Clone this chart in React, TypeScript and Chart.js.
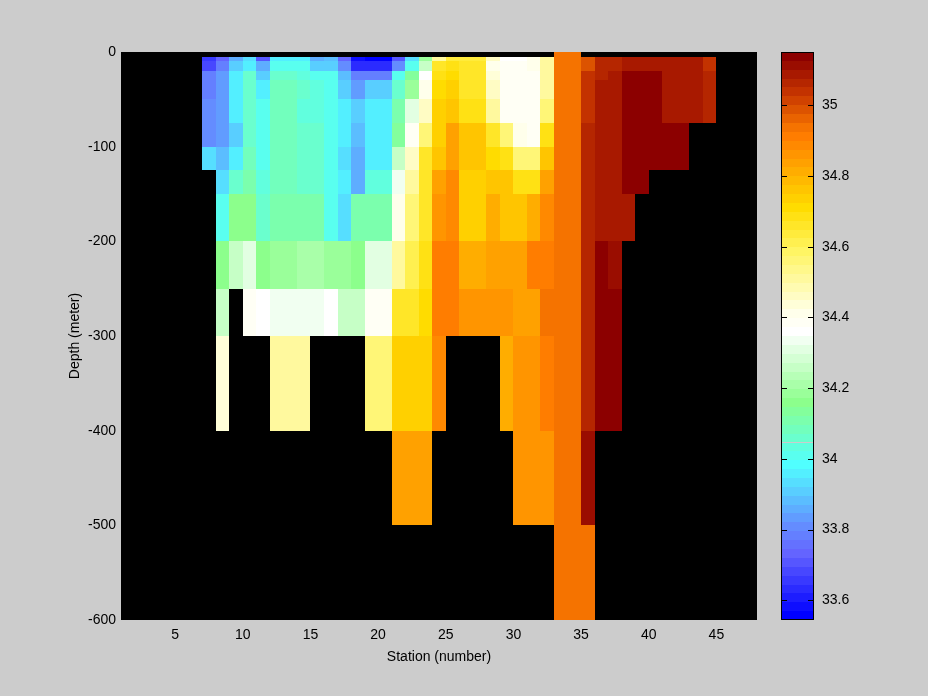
import React, { useEffect, useRef } from "react";
import { Chart, registerables } from "chart.js";

Chart.register(...registerables);

// ---------- data ----------
// left edge of each pcolor cell (station number); each cell spans one station
const STATIONS = [
  7, 8, 9, 10, 11, 12, 13, 14, 15, 16, 17, 18, 19, 20, 21, 22, 23, 24, 25, 26,
  27, 28, 29, 30, 31, 32, 33, 34, 35, 36, 37, 38, 39, 40, 41, 42, 43, 44,
];
// depth edges (m) of the cell rows
const DEPTH_EDGES = [0, 5, 10, 20, 30, 50, 75, 100, 125, 150, 200, 250, 300, 400, 500, 600];
const X_TICKS = [5, 10, 15, 20, 25, 30, 35, 40, 45];
const Y_TICKS = [0, -100, -200, -300, -400, -500, -600];
const CBAR_TICKS = [33.6, 33.8, 34, 34.2, 34.4, 34.6, 34.8, 35];
const C_MIN = 33.544;
const C_MAX = 35.151;
const X_MIN = 1;
const X_MAX = 48;
const Y_MIN = -600;
const Y_MAX = 0;

const N = null;
// salinity per station (rows follow DEPTH_EDGES intervals, top to bottom)
const SALINITY: (number | null)[][] = [
  /* 7 */ [N, 33.65, 33.69, 33.78, 33.78, 33.8, 33.8, 33.93, N, N, N, N, N, N, N],
  /* 8 */ [N, 33.72, 33.78, 33.84, 33.84, 33.84, 33.84, 33.88, 33.93, 34.0, 34.15, 34.27, 34.44, N, N],
  /* 9 */ [N, 33.86, 33.9, 33.97, 33.97, 33.97, 33.92, 33.97, 34.05, 34.15, 34.27, N, N, N, N],
  /* 10 */ [N, 33.93, 33.97, 34.05, 34.05, 34.05, 34.05, 34.08, 34.12, 34.15, 34.3, 34.38, N, N, N],
  /* 11 */ [N, 33.7, 33.85, 33.9, 33.95, 34.0, 34.0, 34.0, 34.04, 34.06, 34.17, 34.36, N, N, N],
  /* 12 */ [N, 33.95, 34.0, 34.06, 34.08, 34.08, 34.08, 34.08, 34.08, 34.1, 34.18, 34.34, 34.5, N, N],
  /* 13 */ [N, 33.95, 34.0, 34.06, 34.08, 34.08, 34.08, 34.08, 34.08, 34.1, 34.18, 34.34, 34.5, N, N],
  /* 14 */ [N, 33.95, 34.0, 34.04, 34.05, 34.04, 34.05, 34.05, 34.06, 34.1, 34.2, 34.34, 34.5, N, N],
  /* 15 */ [N, 33.87, 33.92, 34.0, 34.03, 34.04, 34.05, 34.05, 34.06, 34.1, 34.2, 34.34, N, N, N],
  /* 16 */ [N, 33.88, 33.92, 34.0, 34.0, 34.02, 34.02, 34.02, 34.02, 34.02, 34.18, 34.37, N, N, N],
  /* 17 */ [N, 33.72, 33.82, 33.88, 33.9, 33.95, 33.95, 33.93, 33.95, 33.93, 34.18, 34.27, N, N, N],
  /* 18 */ [N, 33.58, 33.63, 33.78, 33.84, 33.92, 33.88, 33.87, 33.87, 34.12, 34.15, 34.27, N, N, N],
  /* 19 */ [N, 33.56, 33.63, 33.78, 33.9, 33.97, 33.97, 33.97, 34.04, 34.12, 34.3, 34.38, 34.55, N, N],
  /* 20 */ [N, 33.56, 33.63, 33.78, 33.9, 33.97, 33.97, 33.97, 34.04, 34.12, 34.3, 34.38, 34.55, N, N],
  /* 21 */ [N, 33.7, 33.8, 34.0, 34.05, 34.12, 34.13, 34.25, 34.33, 34.42, 34.52, 34.65, 34.73, 34.83, N],
  /* 22 */ [N, 33.93, 34.02, 34.13, 34.18, 34.32, 34.38, 34.47, 34.5, 34.55, 34.6, 34.65, 34.73, 34.83, N],
  /* 23 */ [N, 34.18, 34.27, 34.35, 34.4, 34.46, 34.55, 34.65, 34.65, 34.66, 34.68, 34.72, 34.73, 34.83, N],
  /* 24 */ [N, 34.5, 34.66, 34.68, 34.7, 34.73, 34.73, 34.77, 34.83, 34.85, 34.9, 34.9, 34.88, N, N],
  /* 25 */ [N, 34.64, 34.69, 34.7, 34.73, 34.76, 34.84, 34.84, 34.88, 34.88, 34.9, 34.9, N, N, N],
  /* 26 */ [N, 34.63, 34.66, 34.66, 34.66, 34.68, 34.77, 34.77, 34.73, 34.73, 34.8, 34.87, N, N, N],
  /* 27 */ [N, 34.64, 34.66, 34.66, 34.66, 34.68, 34.77, 34.77, 34.73, 34.73, 34.8, 34.87, N, N, N],
  /* 28 */ [N, 34.45, 34.42, 34.44, 34.45, 34.5, 34.65, 34.7, 34.75, 34.8, 34.83, 34.85, N, N, N],
  /* 29 */ [N, 34.37, 34.38, 34.38, 34.38, 34.39, 34.56, 34.68, 34.75, 34.77, 34.83, 34.85, 34.82, N, N],
  /* 30 */ [N, 34.37, 34.38, 34.38, 34.38, 34.39, 34.4, 34.55, 34.69, 34.77, 34.83, 34.83, 34.85, 34.87, N],
  /* 31 */ [N, 34.42, 34.42, 34.38, 34.38, 34.39, 34.38, 34.55, 34.69, 34.8, 34.9, 34.83, 34.85, 34.87, N],
  /* 32 */ [N, 34.5, 34.5, 34.5, 34.52, 34.55, 34.68, 34.77, 34.83, 34.88, 34.92, 34.94, 34.91, 34.87, N],
  /* 33 */ [34.94, 34.94, 34.94, 34.94, 34.94, 34.94, 34.94, 34.94, 34.94, 34.94, 34.94, 34.94, 34.94, 34.94, 34.94],
  /* 34 */ [34.94, 34.94, 34.94, 34.94, 34.94, 34.94, 34.94, 34.94, 34.94, 34.94, 34.94, 34.94, 34.94, 34.94, 34.94],
  /* 35 */ [N, 34.98, 35.0, 35.03, 35.03, 35.05, 35.07, 35.07, 35.07, 35.07, 35.07, 35.07, 35.07, 35.11, 34.94],
  /* 36 */ [N, 35.06, 35.07, 35.07, 35.1, 35.1, 35.1, 35.1, 35.1, 35.1, 35.13, 35.13, 35.13, N, N],
  /* 37 */ [N, 35.07, 35.07, 35.1, 35.1, 35.1, 35.1, 35.1, 35.1, 35.1, 35.11, 35.13, 35.13, N, N],
  /* 38 */ [N, 35.1, 35.1, 35.13, 35.13, 35.13, 35.13, 35.13, 35.13, 35.1, N, N, N, N, N],
  /* 39 */ [N, 35.1, 35.1, 35.13, 35.13, 35.13, 35.13, 35.13, 35.13, N, N, N, N, N, N],
  /* 40 */ [N, 35.1, 35.1, 35.13, 35.13, 35.13, 35.13, 35.13, N, N, N, N, N, N, N],
  /* 41 */ [N, 35.08, 35.1, 35.1, 35.1, 35.1, 35.13, 35.13, N, N, N, N, N, N, N],
  /* 42 */ [N, 35.08, 35.1, 35.1, 35.1, 35.1, 35.13, 35.13, N, N, N, N, N, N, N],
  /* 43 */ [N, 35.08, 35.08, 35.1, 35.1, 35.1, N, N, N, N, N, N, N, N, N],
  /* 44 */ [N, 35.05, 35.05, 35.07, 35.07, 35.07, N, N, N, N, N, N, N, N, N],
];

// ---------- colormap (64 levels, index from top = highest value) ----------
const CMAP_LEVELS = 64;
const CMAP_ANCHORS: [number, [number, number, number]][] = [
  [0, [140, 0, 0]],
  [4, [195, 50, 0]],
  [8, [245, 115, 0]],
  [9, [255, 125, 0]],
  [14, [255, 185, 0]],
  [17, [255, 220, 0]],
  [22, [255, 245, 100]],
  [29, [255, 255, 235]],
  [31, [255, 255, 255]],
  [39, [140, 255, 140]],
  [46, [80, 255, 255]],
  [53, [100, 140, 255]],
  [56, [100, 100, 255]],
  [63, [0, 0, 255]],
];

function buildLut(): string[] {
  const fromTop: string[] = [];
  for (let k = 0; k < CMAP_LEVELS; k++) {
    let a = CMAP_ANCHORS[0];
    let b = CMAP_ANCHORS[CMAP_ANCHORS.length - 1];
    for (let i = 0; i < CMAP_ANCHORS.length - 1; i++) {
      if (k >= CMAP_ANCHORS[i][0] && k <= CMAP_ANCHORS[i + 1][0]) {
        a = CMAP_ANCHORS[i];
        b = CMAP_ANCHORS[i + 1];
        break;
      }
    }
    const t = b[0] === a[0] ? 0 : (k - a[0]) / (b[0] - a[0]);
    const c = [0, 1, 2].map((j) => Math.round(a[1][j] + (b[1][j] - a[1][j]) * t));
    fromTop.push(`rgb(${c[0]},${c[1]},${c[2]})`);
  }
  return fromTop.reverse(); // index 0 = lowest value
}
const LUT = buildLut();

function colorFor(v: number): string {
  let idx = Math.floor(((v - C_MIN) / (C_MAX - C_MIN)) * CMAP_LEVELS);
  if (idx < 0) idx = 0;
  if (idx > CMAP_LEVELS - 1) idx = CMAP_LEVELS - 1;
  return LUT[idx];
}

const FONT = { family: "'Liberation Sans', Arial, Helvetica, sans-serif", size: 14 };
const BG = "#cccccc";

const bgPlugin = {
  id: "figureBg",
  beforeDraw(chart: any) {
    const { ctx, width, height } = chart;
    ctx.save();
    ctx.fillStyle = BG;
    ctx.fillRect(0, 0, width, height);
    ctx.restore();
  },
};

const heatmapPlugin = {
  id: "heatmap",
  beforeDatasetsDraw(chart: any) {
    const { ctx, chartArea, scales } = chart;
    const xs = scales.x;
    const ys = scales.y;
    ctx.save();
    ctx.fillStyle = "#000000";
    ctx.fillRect(chartArea.left, chartArea.top, chartArea.right - chartArea.left, chartArea.bottom - chartArea.top);
    ctx.beginPath();
    ctx.rect(chartArea.left, chartArea.top, chartArea.right - chartArea.left, chartArea.bottom - chartArea.top);
    ctx.clip();
    STATIONS.forEach((s, i) => {
      const x0 = Math.round(xs.getPixelForValue(s));
      const x1 = Math.round(xs.getPixelForValue(s + 1));
      SALINITY[i].forEach((v, j) => {
        if (v === null || v === undefined) return;
        const y0 = Math.round(ys.getPixelForValue(-DEPTH_EDGES[j]));
        const y1 = Math.round(ys.getPixelForValue(-DEPTH_EDGES[j + 1]));
        ctx.fillStyle = colorFor(v);
        ctx.fillRect(x0, y0, x1 - x0, y1 - y0);
      });
    });
    ctx.restore();
  },
};

const colorbarPlugin = {
  id: "colorbar",
  beforeDatasetsDraw(chart: any) {
    const { ctx, chartArea, scales } = chart;
    const ys = scales.y;
    const step = (C_MAX - C_MIN) / CMAP_LEVELS;
    ctx.save();
    for (let k = 0; k < CMAP_LEVELS; k++) {
      const v0 = C_MIN + k * step;
      const y0 = Math.round(ys.getPixelForValue(v0));
      const y1 = Math.round(ys.getPixelForValue(v0 + step));
      ctx.fillStyle = LUT[k];
      ctx.fillRect(chartArea.left, y1, chartArea.right - chartArea.left, y0 - y1);
    }
    ctx.strokeStyle = "#000";
    ctx.lineWidth = 1;
    ctx.strokeRect(chartArea.left + 0.5, chartArea.top + 0.5, chartArea.right - chartArea.left - 1, chartArea.bottom - chartArea.top - 1);
    ctx.beginPath();
    CBAR_TICKS.forEach((t) => {
      const y = Math.round(ys.getPixelForValue(t)) + 0.5;
      ctx.moveTo(chartArea.left, y);
      ctx.lineTo(chartArea.left + 6, y);
      ctx.moveTo(chartArea.right - 6, y);
      ctx.lineTo(chartArea.right, y);
    });
    ctx.stroke();
    ctx.restore();
  },
};

export default function App() {
  const mainRef = useRef<HTMLCanvasElement | null>(null);
  const barRef = useRef<HTMLCanvasElement | null>(null);

  useEffect(() => {
    if (!mainRef.current || !barRef.current) return;
    const main = new Chart(mainRef.current, {
      type: "scatter",
      data: { datasets: [{ data: [], pointRadius: 0 }] },
      options: {
        animation: false,
        responsive: false,
        devicePixelRatio: 1,
        layout: { padding: { top: 52, right: 13, left: 0, bottom: 0 } },
        plugins: { legend: { display: false }, tooltip: { enabled: false } },
        scales: {
          x: {
            type: "linear",
            min: X_MIN,
            max: X_MAX,
            afterBuildTicks: (s: any) => {
              s.ticks = X_TICKS.map((v) => ({ value: v }));
            },
            afterFit: (s: any) => {
              s.height = 76;
            },
            grid: { display: false, drawTicks: false },
            border: { display: false },
            ticks: { color: "#000", font: FONT, padding: 7, maxRotation: 0, autoSkip: false },
            title: {
              display: true,
              text: "Station (number)",
              color: "#000",
              font: FONT,
              padding: { top: 0, bottom: 30 },
            },
          },
          y: {
            type: "linear",
            min: Y_MIN,
            max: Y_MAX,
            afterBuildTicks: (s: any) => {
              s.ticks = Y_TICKS.map((v) => ({ value: v }));
            },
            afterFit: (s: any) => {
              s.width = 121;
            },
            grid: { display: false, drawTicks: false },
            border: { display: false },
            ticks: { color: "#000", font: FONT, padding: 5, autoSkip: false },
            title: {
              display: true,
              text: "Depth (meter)",
              color: "#000",
              font: FONT,
              padding: { top: 67, bottom: 0 },
            },
          },
        },
      },
      plugins: [bgPlugin, heatmapPlugin],
    } as any);

    const bar = new Chart(barRef.current, {
      type: "scatter",
      data: { datasets: [{ data: [], pointRadius: 0 }] },
      options: {
        animation: false,
        responsive: false,
        devicePixelRatio: 1,
        layout: { padding: { top: 52, right: 0, left: 11, bottom: 76 } },
        plugins: { legend: { display: false }, tooltip: { enabled: false } },
        scales: {
          x: { type: "linear", display: false, min: 0, max: 1 },
          y: {
            type: "linear",
            position: "right",
            min: C_MIN,
            max: C_MAX,
            afterBuildTicks: (s: any) => {
              s.ticks = CBAR_TICKS.map((v) => ({ value: v }));
            },
            afterFit: (s: any) => {
              s.width = 114;
            },
            grid: { display: false, drawTicks: false },
            border: { display: false },
            ticks: {
              color: "#000",
              font: FONT,
              padding: 8,
              autoSkip: false,
              callback: (v: any) => String(Number(Number(v).toFixed(1))),
            },
          },
        },
      },
      plugins: [bgPlugin, colorbarPlugin],
    } as any);

    return () => {
      main.destroy();
      bar.destroy();
    };
  }, []);

  return (
    <div
      style={{
        position: "fixed",
        left: 0,
        top: 0,
        width: 928,
        height: 696,
        background: BG,
        overflow: "hidden",
      }}
    >
      <canvas
        ref={mainRef}
        width={770}
        height={696}
        style={{ position: "absolute", left: 0, top: 0, width: 770, height: 696 }}
      />
      <canvas
        ref={barRef}
        width={158}
        height={696}
        style={{ position: "absolute", left: 770, top: 0, width: 158, height: 696 }}
      />
    </div>
  );
}
